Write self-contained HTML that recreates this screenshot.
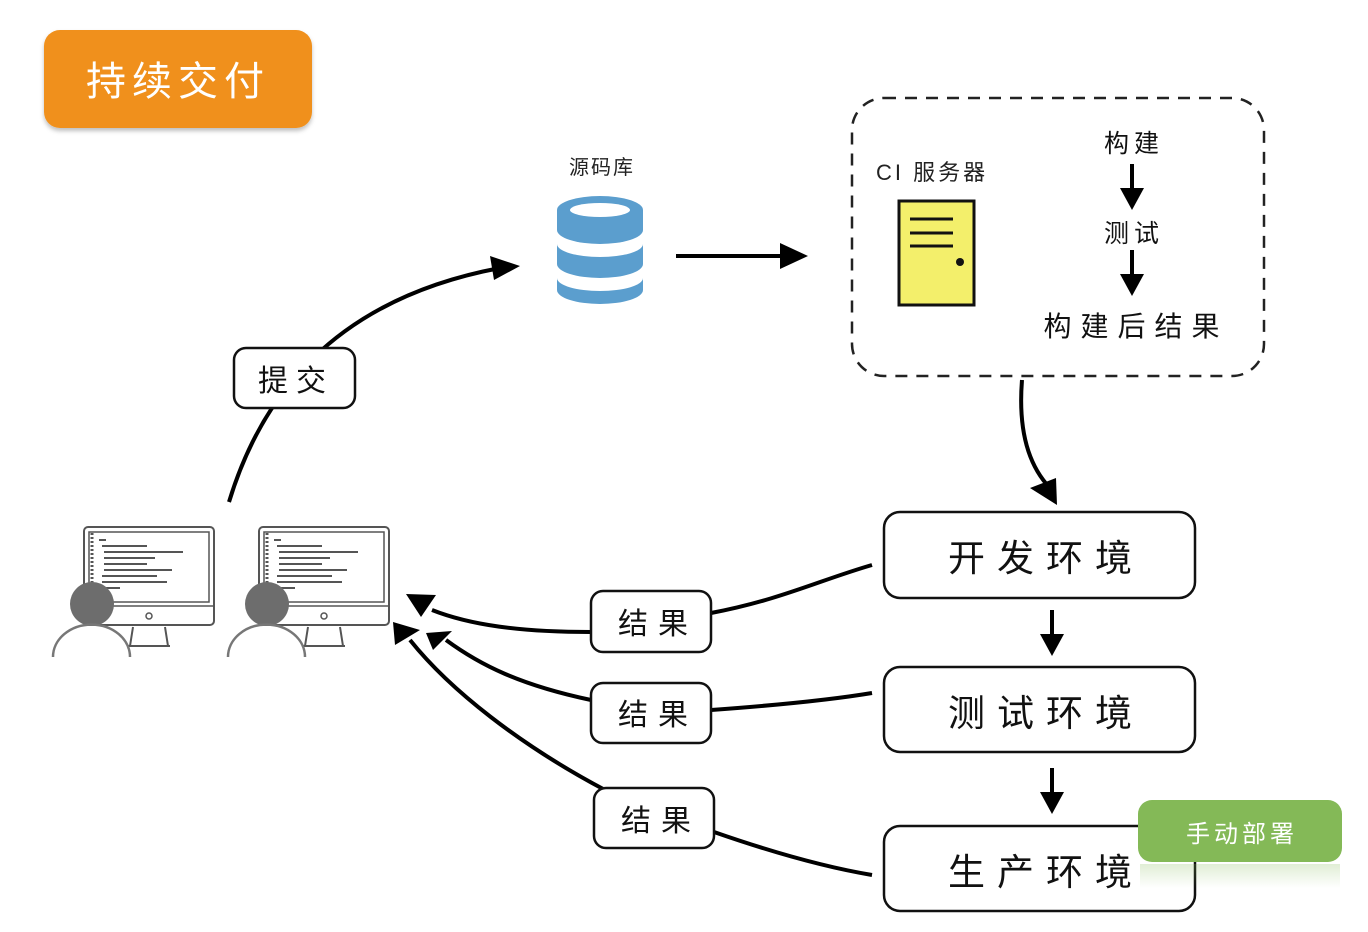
<!DOCTYPE html>
<html><head><meta charset="utf-8"><style>
html,body{margin:0;padding:0;background:#fff;}
svg text{font-family:"Liberation Sans","Noto Sans CJK SC",sans-serif;}
</style></head><body>
<svg width="1368" height="927" viewBox="0 0 1368 927" xmlns="http://www.w3.org/2000/svg">
<defs>
<filter id="sh" x="-10%" y="-10%" width="120%" height="130%"><feDropShadow dx="0" dy="3" stdDeviation="2" flood-color="#000" flood-opacity="0.25"/></filter>
<linearGradient id="rf" x1="0" y1="0" x2="0" y2="1"><stop offset="0" stop-color="#84b957" stop-opacity="0.25"/><stop offset="1" stop-color="#84b957" stop-opacity="0"/></linearGradient>
</defs>
<rect x="44" y="30" width="268" height="98" rx="16" fill="#f0901c" filter="url(#sh)"/>
<text x="178" y="95" font-size="40" fill="#fff" text-anchor="middle" letter-spacing="6">持续交付</text>

<text x="602" y="174" font-size="20" fill="#222" text-anchor="middle" letter-spacing="2">源码库</text>
<g fill="#5b9ece">
<path d="M557,210 a43,14 0 0 1 86,0 v20 a43,14 0 0 1 -86,0z"/>
<path d="M557,244 a43,13 0 0 0 86,0 v20 a43,14 0 0 1 -86,0z"/>
<path d="M557,278 a43,13 0 0 0 86,0 v12 a43,14 0 0 1 -86,0z"/>
</g>
<ellipse cx="600" cy="210" rx="30" ry="7" fill="#fff"/>
<line x1="676" y1="256" x2="785" y2="256" stroke="#000" stroke-width="4"/>
<polygon points="780,243 808,256 780,269" fill="#000"/>

<rect x="852" y="98" width="412" height="278" rx="32" fill="none" stroke="#222" stroke-width="2.5" stroke-dasharray="12,9"/>
<text x="876" y="180" font-size="22" fill="#222" letter-spacing="3">CI 服务器</text>
<rect x="899" y="201" width="75" height="104" fill="#f3ef6b" stroke="#111" stroke-width="3"/>
<g stroke="#111" stroke-width="3"><line x1="910" y1="219" x2="953" y2="219"/><line x1="910" y1="233" x2="953" y2="233"/><line x1="910" y1="246" x2="953" y2="246"/></g>
<circle cx="960" cy="262" r="4" fill="#111"/>
<text x="1134" y="152" font-size="25" text-anchor="middle" fill="#111" letter-spacing="5">构建</text>
<line x1="1132" y1="164" x2="1132" y2="192" stroke="#000" stroke-width="4"/>
<polygon points="1120,188 1144,188 1132,210" fill="#000"/>
<text x="1134" y="242" font-size="25" text-anchor="middle" fill="#111" letter-spacing="5">测试</text>
<line x1="1132" y1="250" x2="1132" y2="278" stroke="#000" stroke-width="4"/>
<polygon points="1120,274 1144,274 1132,296" fill="#000"/>
<text x="1136" y="336" font-size="28" text-anchor="middle" fill="#111" letter-spacing="9">构建后结果</text>

<path d="M1022,380 C1018,430 1028,465 1050,488" fill="none" stroke="#000" stroke-width="4"/>
<polygon points="1030,488 1056,478 1057,505" fill="#000"/>

<g fill="#fff" stroke="#111" stroke-width="2.5">
<rect x="884" y="512" width="311" height="86" rx="16"/>
<rect x="884" y="667" width="311" height="85" rx="16"/>
<rect x="884" y="826" width="311" height="85" rx="16"/>
</g>
<g font-size="37" fill="#111" text-anchor="middle" letter-spacing="12">
<text x="1046" y="571">开发环境</text>
<text x="1046" y="726">测试环境</text>
<text x="1046" y="885">生产环境</text>
</g>
<line x1="1052" y1="610" x2="1052" y2="638" stroke="#000" stroke-width="4"/>
<polygon points="1040,634 1064,634 1052,656" fill="#000"/>
<line x1="1052" y1="768" x2="1052" y2="796" stroke="#000" stroke-width="4"/>
<polygon points="1040,792 1064,792 1052,814" fill="#000"/>

<rect x="1138" y="800" width="204" height="62" rx="14" fill="#84b957"/>
<rect x="1140" y="864" width="200" height="24" fill="url(#rf)"/>
<text x="1242" y="842" font-size="24" fill="#fff" text-anchor="middle" letter-spacing="4">手动部署</text>

<path d="M229,502 C260,400 330,300 500,268" fill="none" stroke="#000" stroke-width="4"/>
<polygon points="490,256 520,266 494,280" fill="#000"/>
<rect x="234" y="348" width="121" height="60" rx="12" fill="#fff" stroke="#111" stroke-width="2.5"/>
<text x="296" y="391" font-size="30" fill="#111" text-anchor="middle" letter-spacing="8">提交</text>

<g fill="none" stroke="#000" stroke-width="4">
<path d="M711,613 C780,600 820,580 872,565"/>
<path d="M591,632 C520,632 470,625 432,610"/>
<path d="M711,710 C780,705 830,700 872,693"/>
<path d="M591,700 C520,685 480,665 446,640"/>
<path d="M714,832 C780,855 830,868 872,875"/>
<path d="M605,790 C520,745 450,690 410,640"/>
</g>
<g fill="#000">
<polygon points="406,594 436,595 421,617"/>
<polygon points="426,633 452,631 433,650"/>
<polygon points="393,622 420,630 395,645"/>
</g>
<g fill="#fff" stroke="#111" stroke-width="2.5">
<rect x="591" y="591" width="120" height="61" rx="12"/>
<rect x="591" y="683" width="120" height="60" rx="12"/>
<rect x="594" y="788" width="120" height="60" rx="12"/>
</g>
<g font-size="30" fill="#111" text-anchor="middle" letter-spacing="10">
<text x="658" y="634">结果</text>
<text x="658" y="725">结果</text>
<text x="661" y="831">结果</text>
</g>

<g id="pc">
<rect x="84" y="527" width="130" height="98" rx="4" fill="#fff" stroke="#555" stroke-width="2"/>
<rect x="89" y="532" width="120" height="70" fill="#fff" stroke="#555" stroke-width="1.5"/>
<line x1="84" y1="606" x2="214" y2="606" stroke="#555" stroke-width="1.5"/>
<line x1="92" y1="533" x2="92" y2="600" stroke="#555" stroke-width="3" stroke-dasharray="2,2"/>
<g stroke="#555" stroke-width="2">
<line x1="99" y1="540" x2="106" y2="540"/>
<line x1="102" y1="546" x2="147" y2="546"/>
<line x1="104" y1="552" x2="183" y2="552"/>
<line x1="104" y1="558" x2="155" y2="558"/>
<line x1="104" y1="564" x2="147" y2="564"/>
<line x1="104" y1="570" x2="172" y2="570"/>
<line x1="102" y1="576" x2="157" y2="576"/>
<line x1="102" y1="582" x2="167" y2="582"/>
<line x1="102" y1="588" x2="120" y2="588"/>
</g>
<circle cx="149" cy="616" r="3" fill="none" stroke="#555" stroke-width="1.5"/>
<path d="M133,627 L130,646 M165,627 L168,646 M128,646 L170,646" stroke="#555" stroke-width="2" fill="none"/>
<circle cx="92" cy="604" r="22" fill="#6d6d6d"/>
<path d="M53,657 A38,32 0 0 1 130,657" fill="none" stroke="#777" stroke-width="2.5"/>
</g>
<use href="#pc" x="175" y="0"/>
</svg>
</body></html>
